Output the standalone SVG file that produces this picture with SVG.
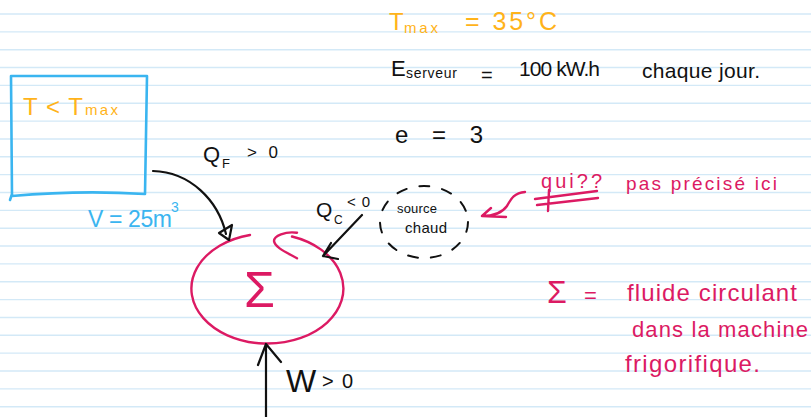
<svg xmlns="http://www.w3.org/2000/svg" width="811" height="417" viewBox="0 0 811 417">
<style>
.ink{fill:none;stroke:#111;stroke-width:2.2;stroke-linecap:round;stroke-linejoin:round}
.pinkline{fill:none;stroke:#dc1a63;stroke-width:2.4;stroke-linecap:round;stroke-linejoin:round}
.blueline{fill:none;stroke:#3ab5f0;stroke-width:2.6;stroke-linecap:round;stroke-linejoin:round}
text{font-family:"Liberation Sans","DejaVu Sans",sans-serif}
.k{fill:#111}
.p{fill:#dc1a63}
.o{fill:#ffb31a}
.b{fill:#3ab5f0}
</style>
<rect width="811" height="417" fill="#ffffff"/>
<g id="paper" stroke="#d3e9f7" stroke-width="1.4">
<path d="M0 14H811M0 31.85H811M0 49.7H811M0 67.55H811M0 85.4H811M0 103.25H811M0 121.1H811M0 138.95H811M0 156.8H811M0 174.65H811M0 192.5H811M0 210.35H811M0 228.2H811M0 246.05H811M0 263.9H811M0 281.75H811M0 299.6H811M0 317.45H811M0 335.3H811M0 353.15H811M0 371H811M0 388.85H811M0 406.7H811"/>
</g>
<g id="room">
<path class="blueline" d="M12 76 L147 76 L145 194 Q80 190 12 196 L11 76 M12 194 L10 200"/>
<text class="o" x="23" y="115" font-size="24" textLength="60">T &lt; T</text>
<text class="o" x="85" y="115" font-size="15" textLength="33">max</text>
<text class="b" x="88" y="227" font-size="23" textLength="84">V = 25m</text>
<text class="b" x="171" y="212" font-size="14">3</text>
</g>
<g id="sigma">
<path class="pinkline" d="M250 235 A76 55 0 1 0 292 236.5"/>
<path class="pinkline" d="M297 232.7 C285 231 274 236 274 241 C275 248 288 253 297 258.3"/>
<text class="p" x="244" y="307" font-size="50" textLength="34">Σ</text>
</g>
<g id="source-chaude">
<ellipse cx="424" cy="222" rx="44" ry="36" fill="none" stroke="#111" stroke-width="2" stroke-dasharray="10 13" stroke-linecap="round"/>
<text class="k" x="397" y="213" font-size="13" textLength="40">source</text>
<text class="k" x="405" y="233" font-size="15" textLength="42">chaud</text>
</g>
<g id="connectors">
<path class="ink" d="M153 171 C190 172 218 200 226 234"/>
<path class="ink" d="M219 233 L232 225 L229 240 Z"/>
<path class="ink" d="M362 215 L323 256 M323 256 L331 243 M323 256 L338 259"/>
<path class="ink" d="M266 417 L266 344 M258 365 L266 344 L281 362"/>
<path class="pinkline" d="M525 192 C514 193 511 199 507 206 C502 213 494 216 482 216 M482 216 L491 208 M482 216 L506 217"/>
</g>
<g id="labels">
<text class="k" x="203" y="162" font-size="22">Q</text>
<text class="k" x="222" y="168" font-size="13">F</text>
<text class="k" x="247" y="158" font-size="17" textLength="31">&gt; 0</text>
<text class="k" x="316" y="217" font-size="21">Q</text>
<text class="k" x="334" y="224" font-size="12">C</text>
<text class="k" x="347" y="207" font-size="15" textLength="23">&lt; 0</text>
<text class="k" x="286" y="392" font-size="32">W</text>
<text class="k" x="322" y="388" font-size="20" textLength="31">&gt; 0</text>
</g>
<g id="notes">
<text class="o" x="389" y="30" font-size="24">T</text>
<text class="o" x="404" y="33" font-size="15" textLength="34">max</text>
<text class="o" x="465" y="30" font-size="25" textLength="92">= 35°C</text>
<text class="k" x="391" y="76" font-size="22">E</text>
<text class="k" x="406" y="78" font-size="14" textLength="51">serveur</text>
<text class="k" x="481" y="82" font-size="20">=</text>
<text class="k" x="519" y="76" font-size="21" textLength="81">100 kW.h</text>
<text class="k" x="642" y="78" font-size="21" textLength="118">chaque jour.</text>
<text class="k" x="395" y="143" font-size="24" textLength="88">e = 3</text>
<text class="p" x="541" y="188" font-size="20" textLength="61">qui??</text>
<path class="pinkline" d="M535 199 L597 191 M537 205 L598 198 M549 190 L548 211"/>
<text class="p" x="626" y="190" font-size="19" textLength="151">pas précisé ici</text>
<text class="p" x="547" y="303" font-size="32" textLength="24">Σ</text>
<text class="p" x="584" y="303" font-size="22">=</text>
<text class="p" x="627" y="301" font-size="24" textLength="170">fluide circulant</text>
<text class="p" x="632" y="337" font-size="22" textLength="176">dans la machine</text>
<text class="p" x="625" y="372" font-size="24" textLength="135">frigorifique.</text>
</g>
</svg>
